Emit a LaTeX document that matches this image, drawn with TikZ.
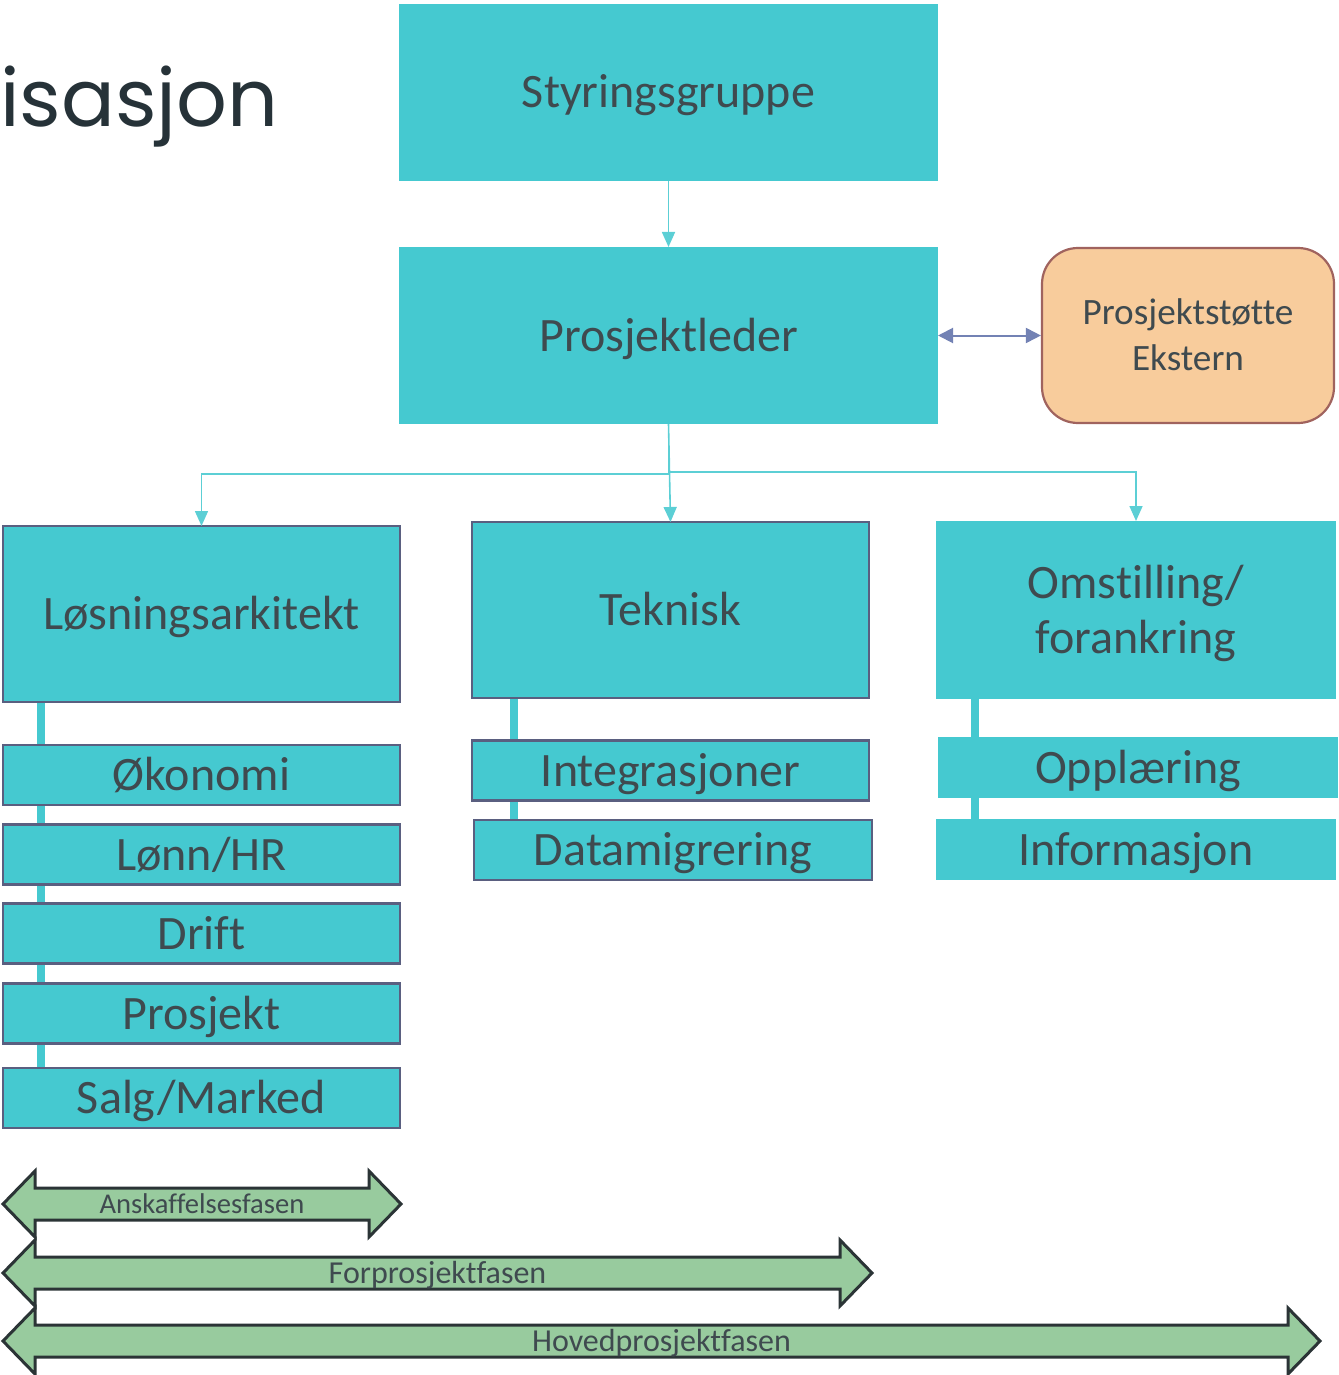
\documentclass[tikz,border=0pt]{standalone}
\usepackage{fontspec}
\setmainfont{Carlito}[Ligatures=NoCommon]
\newfontfamily\titlefont{Poppins}
\usetikzlibrary{arrows.meta}
\pgfdeclarelayer{background}
\pgfsetlayers{background,main}
\definecolor{cyanbox}{HTML}{45C9D0}
\definecolor{cyanline}{HTML}{5CCFD5}
\definecolor{boxline}{HTML}{5A5F80}
\definecolor{txt}{HTML}{3F4A4F}
\definecolor{peach}{HTML}{F8CC9C}
\definecolor{peachline}{HTML}{A0635E}
\definecolor{phasegreen}{HTML}{98CB9E}
\definecolor{phaseline}{HTML}{2B3436}
\definecolor{dblblue}{HTML}{7382B4}
\definecolor{titlec}{HTML}{263238}
\newcommand\phasearr[6]{%
  \filldraw[phase] (#1,#3) -- (#1+32,#3-33) -- (#1+32,#3-16) -- (#2-32,#3-16) -- (#2-32,#3-33) -- (#2,#3)
    -- (#2-32,#3+33) -- (#2-32,#3+16) -- (#1+32,#3+16) -- (#1+32,#3+33) -- cycle;
  \node[phasetext, #6] (#5) at ({(#1+#2)/2},#3) {#4};}
\begin{document}
\begin{tikzpicture}[x=0.5pt,y=-0.5pt,
  box/.style={rectangle, fill=cyanbox, inner sep=0pt, outer sep=0pt, text=txt, align=center,
    font=\fontsize{24}{27.5}\selectfont, text height=15.5pt, text depth=0pt},
  bbox/.style={box, draw=boxline, line width=1.1pt},
  bigbox/.style={minimum width=198.5pt, minimum height=88pt},
  subbox/.style={minimum width=198.5pt, minimum height=30pt},
  conn/.style={draw=cyanline, line width=0.8pt, -{Triangle[width=6.5pt,length=7.5pt]}},
  stem/.style={draw=cyanbox, line width=4pt},
  dbl/.style={draw=dblblue, line width=1pt, {Triangle[width=7.5pt,length=7.5pt]}-{Triangle[width=7.5pt,length=7.5pt]}},
  phase/.style={fill=phasegreen, draw=phaseline, line width=1.5pt, line join=miter},
  phasetext/.style={inner sep=0pt, text=txt, font=\fontsize{14.3}{17}\selectfont, text height=9.2pt, text depth=0pt},
  phasebig/.style={font=\fontsize{16}{19}\selectfont, text height=10.3pt}
]
\useasboundingbox (0,0) rectangle (1338,1375);

% title
\node[anchor=base west, inner sep=0pt, text=titlec, font=\titlefont\fontsize{39.8}{45}\selectfont] (title) at (0,127) {isasjon};

% top level
\node[box, minimum width=269.5pt, minimum height=88.5pt] (sg) at (668.5,92.5) {Styringsgruppe};
\node[box, minimum width=269.5pt, minimum height=88.5pt] (pl) at (668.5,335.5) {Prosjektleder};
\node[rectangle, rounded corners=18pt, fill=peach, draw=peachline, line width=1.1pt, inner sep=0pt,
  minimum width=146pt, minimum height=87.5pt, text=txt, align=center,
  font=\fontsize{18.6}{23}\selectfont, text height=35pt, text depth=0pt] (ps) at (1188,335.5) {Prosjektstøtte\\Ekstern};

% second level
\node[bbox, bigbox] (los) at (201.5,614) {Løsningsarkitekt};
\node[bbox, bigbox] (tek) at (670.5,610) {Teknisk};
\node[box, minimum width=200pt, minimum height=89pt, text height=43pt] (oms) at (1136,610) {Omstilling/\\forankring};

% left column
\node[bbox, subbox] (oko) at (201.5,775) {Økonomi};
\node[bbox, subbox] (lonn) at (201.5,854.5) {Lønn/HR};
\node[bbox, subbox] (drift) at (201.5,933.5) {Drift};
\node[bbox, subbox] (prosj) at (201.5,1013.5) {Prosjekt};
\node[bbox, subbox] (salg) at (201.5,1098) {Salg/Marked};

% middle column
\node[bbox, subbox] (integ) at (670.5,770.5) {Integrasjoner};
\node[bbox, subbox, minimum width=199pt] (data) at (673,850) {Datamigrering};

% right column
\node[box, minimum width=200pt, minimum height=30.5pt] (oppl) at (1138,767.5) {Opplæring};
\node[box, minimum width=200pt, minimum height=30.5pt] (info) at (1136,849.5) {Informasjon};

% stems behind boxes
\coordinate (sL) at (41,0);
\coordinate (sM) at (514,0);
\coordinate (sR) at (975,0);
\begin{pgfonlayer}{background}
\draw[stem] (los.south -| sL) -- (salg.north -| sL);
\draw[stem] (tek.south -| sM) -- (data.north -| sM);
\draw[stem] (oms.south -| sR) -- (info.north -| sR);
\end{pgfonlayer}

% connectors
\draw[conn] (sg.south) -- (pl.north);
\draw[dbl] (pl.east) -- (ps.west);
\draw[conn] (pl.south) -- ++(0,50) -| (los.north);
\draw[conn] (pl.south) -- (tek.north);
\draw[conn] (pl.south) -- ++(0,48) -| (oms.north);

% phases
\phasearr{3}{401}{1204}{Anskaffelsesfasen}{ph1}{}
\phasearr{3}{872}{1273}{Forprosjektfasen}{ph2}{phasebig}
\phasearr{3}{1320}{1341}{Hovedprosjektfasen}{ph3}{phasebig}
\end{tikzpicture}
\end{document}
